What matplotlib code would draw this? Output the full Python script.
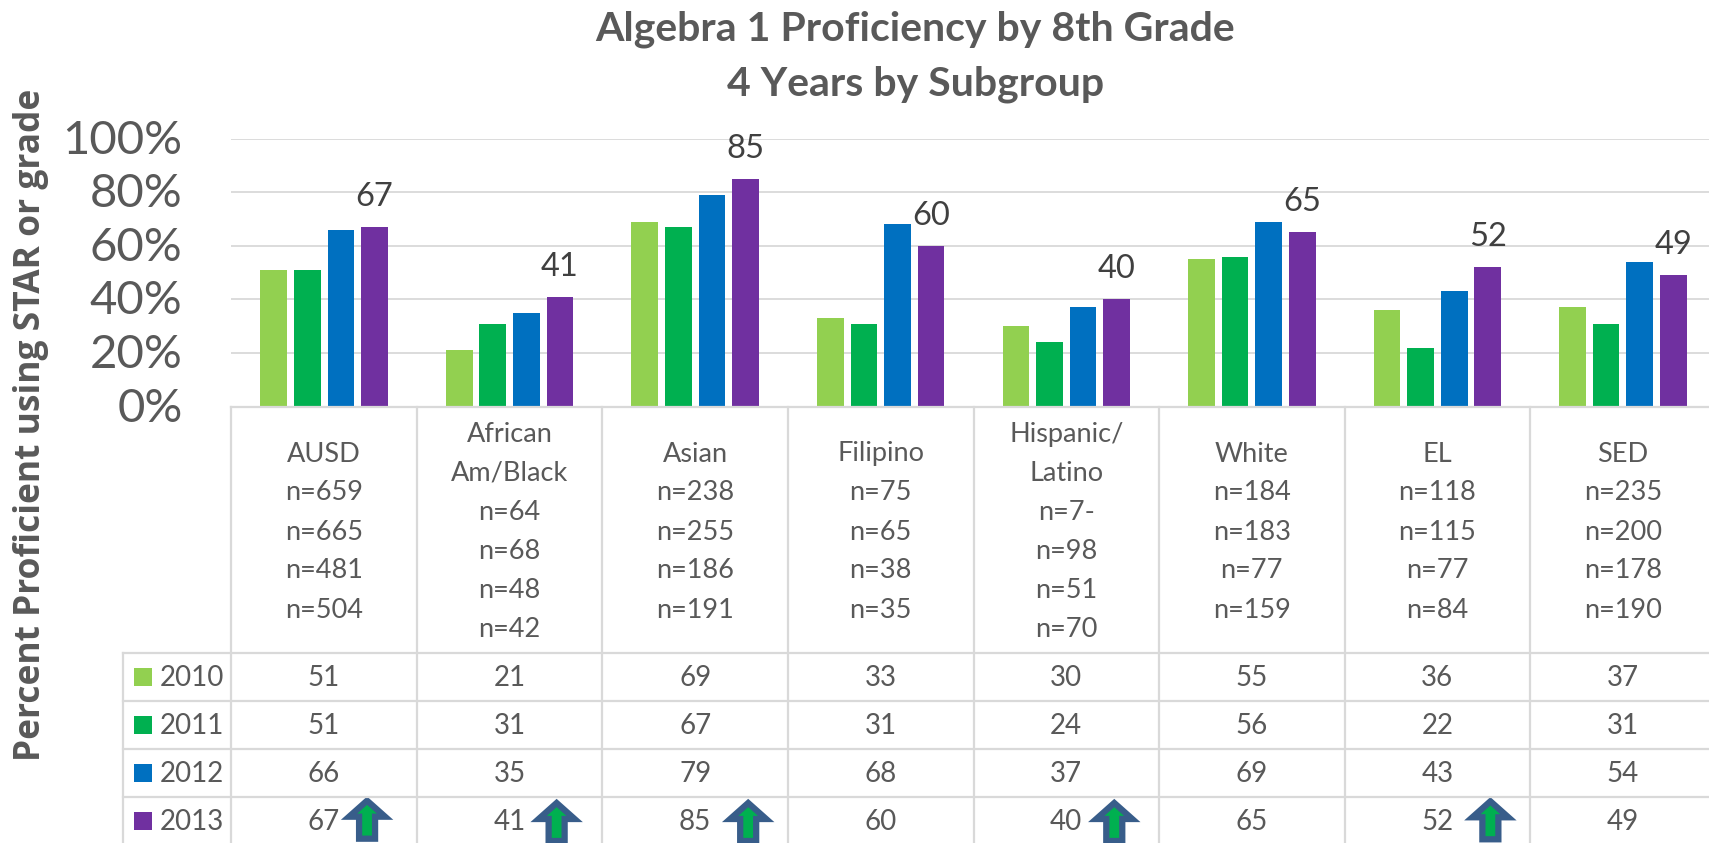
"""Algebra 1 proficiency bar chart with a data table underneath."""
import matplotlib
matplotlib.use('Agg')
import matplotlib.pyplot as plt
from matplotlib.patches import Polygon, Rectangle
from matplotlib.transforms import ScaledTranslation
import numpy as np

plt.rcParams['font.family'] = ['Lato', 'DejaVu Sans']

# data
groups = ["AUSD", "African\nAm/Black", "Asian", "Filipino", "Hispanic/\nLatino",
          "White", "EL", "SED"]
n_labels = [
    ["n=659", "n=665", "n=481", "n=504"],
    ["n=64", "n=68", "n=48", "n=42"],
    ["n=238", "n=255", "n=186", "n=191"],
    ["n=75", "n=65", "n=38", "n=35"],
    ["n=7-", "n=98", "n=51", "n=70"],
    ["n=184", "n=183", "n=77", "n=159"],
    ["n=118", "n=115", "n=77", "n=84"],
    ["n=235", "n=200", "n=178", "n=190"],
]
years = ["2010", "2011", "2012", "2013"]
v2010 = [51, 21, 69, 33, 30, 55, 36, 37]
v2011 = [51, 31, 67, 31, 24, 56, 22, 31]
v2012 = [66, 35, 79, 68, 37, 69, 43, 54]
v2013 = [67, 41, 85, 60, 40, 65, 52, 49]
improved = [True, True, True, False, True, False, True, False]
y_ticks = [0, 20, 40, 60, 80, 100]

series = [v2010, v2011, v2012, v2013]
colors = ["#92D050", "#00B050", "#0070C0", "#7030A0"]
GRID = "#D9D9D9"
TEXT = "#595959"

# layout in pixels
W, H = 1709, 843
COL0 = 231.3
COL_W = 185.55
Y0 = 406.7
Y100 = 138.5
ROW_TOP = 652.7
ROW_H = 48.0
TABLE_LEFT = 123

fig = plt.figure(figsize=(W / 100, H / 100), dpi=100, facecolor="white")
ax = fig.add_axes([COL0 / W, (H - Y0) / H, 8 * COL_W / W, (Y0 - Y100) / H])

# bars
x = np.arange(len(groups))
bar_w = 0.144
step = 0.181
for i, values in enumerate(series):
    ax.bar(x + 0.5 + (i - 1.5) * step, values, bar_w, color=colors[i], zorder=3)

# label only the last year
for xi, v in zip(x, v2013):
    ax.annotate(str(v), (xi + 0.5 + 1.5 * step, v), xytext=(0, 30),
                textcoords="offset pixels", ha="center", va="center",
                fontsize=23.5, color="#404040")

ax.set_xlim(0, len(groups))
ax.set_ylim(0, 100)
ax.set_yticks(y_ticks)
ax.set_yticklabels([f"{t}%" for t in y_ticks], fontsize=34, color=TEXT)
ax.set_xticks([])
ax.tick_params(axis="y", length=0, pad=35)
# nudge the tick labels up a little
for label in ax.get_yticklabels():
    label.set_transform(label.get_transform() + ScaledTranslation(0, 0.02, fig.dpi_scale_trans))
ax.yaxis.grid(True, color=GRID, lw=1.3, zorder=0)
ax.set_axisbelow(True)
for side in ["top", "right", "left", "bottom"]:
    ax.spines[side].set_visible(False)

# overlay in pixel coordinates for the table
ov = fig.add_axes([0, 0, 1, 1], zorder=5)
ov.set_xlim(0, W)
ov.set_ylim(H, 0)
ov.axis("off")
ov.patch.set_alpha(0)

# table lines
ov.plot([COL0, COL0 + 8 * COL_W], [Y0, Y0], color=GRID, lw=1.6)
for c in range(9):
    ov.plot([COL0 + c * COL_W] * 2, [Y0, H], color=GRID, lw=1.6)
for r in range(4):
    ov.plot([TABLE_LEFT, COL0 + 8 * COL_W], [ROW_TOP + r * ROW_H] * 2, color=GRID, lw=1.6)
ov.plot([TABLE_LEFT, TABLE_LEFT], [ROW_TOP, H], color=GRID, lw=1.6)

# column headers
for c, (name, ns) in enumerate(zip(groups, n_labels)):
    ov.text(COL0 + (c + 0.5) * COL_W, 532, name + "\n" + "\n".join(ns),
            ha="center", va="center", fontsize=19.5, color=TEXT, linespacing=1.7)

# table rows
for r, (year, values) in enumerate(zip(years, series)):
    yc = ROW_TOP + (r + 0.5) * ROW_H
    ov.add_patch(Rectangle((134, yc - 9), 18, 18, color=colors[r], lw=0))
    ov.text(160, yc + 1.5, year, ha="left", va="center", fontsize=20, color=TEXT)
    for c, v in enumerate(values):
        ov.text(COL0 + (c + 0.5) * COL_W, yc + 1.5, str(v), ha="center", va="center",
                fontsize=20, color=TEXT)


def draw_arrow(cx, top):
    """Up arrow, green with a thick blue outline."""
    pts = [(cx, top + 4), (cx + 18, top + 20), (cx + 8, top + 20), (cx + 8, top + 42),
           (cx - 8, top + 42), (cx - 8, top + 20), (cx - 18, top + 20)]
    ov.add_patch(Polygon(pts, closed=True, facecolor="#00B050", edgecolor="#385D8A",
                         lw=4.5, joinstyle="miter", clip_on=False))


# arrow offset from the column centre differs a little per column
arrow_dx = [43, 47, 53, 0, 48, 0, 53, 0]
arrow_top = [796.7, 799, 799, 0, 799, 0, 797.3, 0]
for c, flag in enumerate(improved):
    if flag:
        draw_arrow(COL0 + (c + 0.5) * COL_W + arrow_dx[c], arrow_top[c])

# titles
ov.text(915.5, 29, "Algebra 1 Proficiency by 8th Grade", ha="center", va="center",
        fontsize=29.5, fontweight="bold", color=TEXT)
ov.text(915.5, 84, "4 Years by Subgroup", ha="center", va="center",
        fontsize=29.5, fontweight="bold", color=TEXT)
ov.text(31, 425, "Percent Proficient using STAR or grade", ha="center", va="center",
        rotation=90, fontsize=25.5, fontweight="bold", color=TEXT, family="Open Sans")

fig.savefig("out.png", dpi=100)
